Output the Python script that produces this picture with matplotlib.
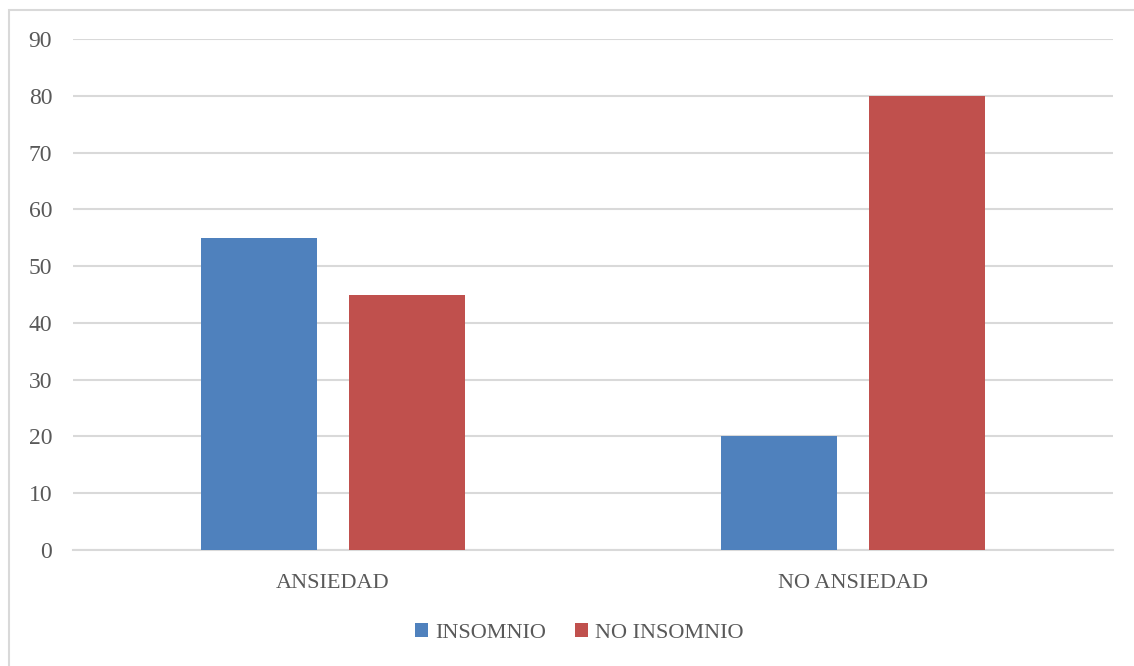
import numpy as np
import matplotlib.pyplot as plt
from matplotlib.patches import Rectangle

categorias = ['ANSIEDAD', 'NO ANSIEDAD']
insomnio = [55, 20]
no_insomnio = [45, 80]
series = ['INSOMNIO', 'NO INSOMNIO']
yticks = [0, 10, 20, 30, 40, 50, 60, 70, 80, 90]

azul = '#4F81BD'
rojo = '#C0504D'
gris_texto = '#595959'
gris_linea = '#D9D9D9'

plt.rcParams['font.family'] = ['Liberation Serif', 'DejaVu Serif']

fig = plt.figure(figsize=(11.34, 6.66), dpi=100)
ax = fig.add_axes([73 / 1134, 1 - 550 / 666, 1040 / 1134, 511 / 666])

x = np.arange(len(categorias))
ancho = 0.223
desp = 0.142
b1 = ax.bar(x - desp, insomnio, ancho, color=azul, label=series[0], zorder=3)
b2 = ax.bar(x + desp, no_insomnio, ancho, color=rojo, label=series[1], zorder=3)

ax.set_xlim(-0.5, 1.5)
ax.set_ylim(0, 90)
ax.set_yticks(yticks)
ax.set_xticks(x)
ax.set_xticklabels(categorias)
ax.tick_params(axis='both', length=0, labelsize=16, colors=gris_texto)
ax.tick_params(axis='y', pad=15, labelsize=17)
ax.tick_params(axis='x', pad=17)
ax.yaxis.grid(True, color=gris_linea, linewidth=1.5, zorder=0)
ax.set_axisbelow(True)
for s in ['top', 'right', 'left']:
    ax.spines[s].set_visible(False)
ax.spines['bottom'].set_color(gris_linea)
ax.spines['bottom'].set_linewidth(1.5)

# borde del grafico (solo se ven arriba e izquierda)
fig.patches.append(Rectangle((8.5 / 1134, -0.1), 1.2, 1 - 9.5 / 666 + 0.1,
                             transform=fig.transFigure, fill=False,
                             edgecolor=gris_linea, linewidth=1.5))

fig.legend(handles=[b1, b2], labels=series, loc='center', bbox_to_anchor=(579 / 1134, 1 - 633 / 666),
           ncol=2, frameon=False, fontsize=16, labelcolor=gris_texto,
           handlelength=0.6, handleheight=0.6, handletextpad=0.3, columnspacing=1.3)

fig.savefig('out.png', dpi=100)
